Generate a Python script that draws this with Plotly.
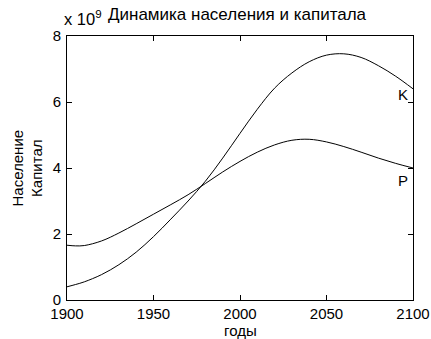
import plotly.graph_objects as go

years = [1900, 1905, 1910, 1920, 1930, 1940, 1950, 1960, 1970, 1980, 1990, 2000,
         2010, 2020, 2030, 2040, 2050, 2060, 2070, 2080, 2090, 2100]
population = [1.66, 1.64, 1.65, 1.79, 2.03, 2.31, 2.60, 2.89, 3.19, 3.53, 3.88, 4.20,
              4.48, 4.70, 4.84, 4.87, 4.79, 4.65, 4.48, 4.30, 4.14, 4.00]
capital = [0.40, 0.47, 0.55, 0.77, 1.07, 1.45, 1.92, 2.45, 3.00, 3.60, 4.30, 5.05,
           5.78, 6.42, 6.88, 7.22, 7.42, 7.46, 7.35, 7.10, 6.78, 6.40]
scale = 1e9
x_ticks = [1900, 1950, 2000, 2050, 2100]
y_ticks = [0, 2, 4, 6, 8]

FONT = "Arial, Liberation Sans, sans-serif"

fig = go.Figure()
fig.add_trace(go.Scatter(x=years, y=[v * scale for v in population], mode="lines",
                         line=dict(color="black", width=1, shape="spline"),
                         showlegend=False, hoverinfo="skip"))
fig.add_trace(go.Scatter(x=years, y=[v * scale for v in capital], mode="lines",
                         line=dict(color="black", width=1, shape="spline"),
                         showlegend=False, hoverinfo="skip"))

axis_common = dict(showline=True, linecolor="black", linewidth=1, mirror="ticks",
                   ticks="inside", ticklen=5, tickcolor="black", tickwidth=1,
                   showgrid=False, zeroline=False, automargin=False,
                   tickfont=dict(family=FONT, size=15, color="black"))

fig.update_xaxes(range=[1900, 2100], tickvals=x_ticks,
                 ticktext=[str(t) for t in x_ticks], **axis_common)
fig.update_yaxes(range=[0, 8 * scale], tickvals=[t * scale for t in y_ticks],
                 ticktext=[str(t) for t in y_ticks], ticklabelstandoff=2, **axis_common)

fig.update_layout(
    template="none",
    width=431, height=339, autosize=False,
    margin=dict(l=67, r=18, t=36, b=39, pad=0),
    paper_bgcolor="white", plot_bgcolor="white",
    font=dict(family=FONT, size=14, color="black"),
)

fig.add_annotation(text="Динамика населения и капитала", xref="paper", yref="paper",
                   x=0.5, y=1.0, xshift=-3, yshift=10, xanchor="center", yanchor="bottom",
                   showarrow=False, font=dict(family=FONT, size=17, color="black"))
fig.add_annotation(text="x 10<sup>9</sup>", xref="paper", yref="paper",
                   x=0.0, y=1.0, xshift=-5, yshift=6, xanchor="left", yanchor="bottom",
                   showarrow=False, font=dict(family=FONT, size=16.5, color="black"))
fig.add_annotation(text="годы", xref="paper", yref="paper",
                   x=0.5, y=0.0, yshift=-20, xanchor="center", yanchor="top",
                   showarrow=False, font=dict(family=FONT, size=15, color="black"))
fig.add_annotation(text="Население<br>Капитал", xref="paper", yref="paper",
                   x=0.0, y=0.5, xshift=-20, xanchor="right", yanchor="middle",
                   textangle=-90, showarrow=False,
                   font=dict(family=FONT, size=15, color="black"))
fig.add_annotation(text="K", x=2094.5, y=6.24 * scale, xref="x", yref="y",
                   showarrow=False, font=dict(family=FONT, size=15, color="black"))
fig.add_annotation(text="P", x=2094, y=3.62 * scale, xref="x", yref="y",
                   showarrow=False, font=dict(family=FONT, size=15, color="black"))

fig.write_html("out.html")
